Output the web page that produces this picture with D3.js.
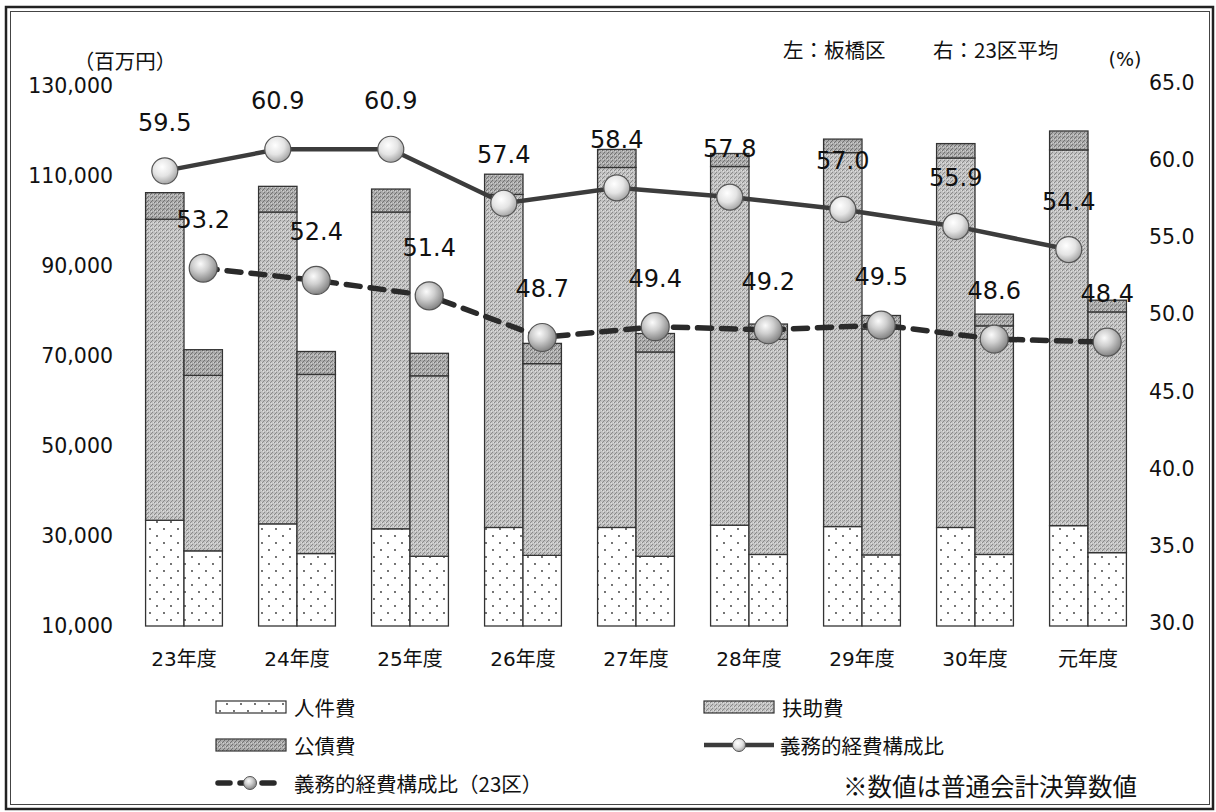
<!DOCTYPE html>
<html lang="ja">
<head>
<meta charset="utf-8">
<script src="https://cdn.jsdelivr.net/npm/d3@7"></script>
<style>
  html, body { margin: 0; padding: 0; background: #fff; }
  svg { display: block; }
  text { fill: #111; }
</style>
</head>
<body>
<svg id="chart" width="1216" height="812"></svg>
<script>
// 年度
const years = ['23年度', '24年度', '25年度', '26年度', '27年度', '28年度', '29年度', '30年度', '元年度'];

// 板橋区（百万円）
const itaPersonnel = [33500, 32700, 31600, 31900, 31900, 32400, 32100, 31900, 32300];
const itaAssist    = [66900, 69300, 70400, 74000, 80000, 79700, 83100, 82100, 83500];
const itaDebt      = [5900, 5700, 5100, 4500, 4000, 2900, 3000, 3200, 4200];

// 23区平均（百万円）
const wardPersonnel = [26700, 26100, 25500, 25700, 25500, 25900, 25800, 25900, 26300];
const wardAssist    = [39000, 39800, 40100, 42600, 45400, 47800, 50200, 50800, 53500];
const wardDebt      = [5700, 5100, 5000, 4500, 4100, 3400, 3000, 2600, 2600];

// 義務的経費構成比（%）
const itaRatio  = [59.5, 60.9, 60.9, 57.4, 58.4, 57.8, 57.0, 55.9, 54.4];
const wardRatio = [53.2, 52.4, 51.4, 48.7, 49.4, 49.2, 49.5, 48.6, 48.4];

// 軸目盛
const leftTicks  = [10000, 30000, 50000, 70000, 90000, 110000, 130000];
const rightTicks = [30, 35, 40, 45, 50, 55, 60, 65];

const seriesKeys = ['人件費', '扶助費', '公債費'];
const sides = ['ita', 'ward'];

const svg = d3.select('#chart');
const FONT = '"DejaVu Sans", "Noto Sans CJK JP", sans-serif';
const JFONT = '"Noto Sans CJK JP", sans-serif';

// ---- defs: fills and marker shading ----
const defs = svg.append('defs');

const dots = defs.append('pattern')
  .attr('id', 'dots').attr('patternUnits', 'userSpaceOnUse')
  .attr('width', 14).attr('height', 14);
dots.append('rect').attr('width', 14).attr('height', 14).attr('fill', '#fff');
dots.append('circle').attr('cx', 3).attr('cy', 4).attr('r', 0.9).attr('fill', '#333');
dots.append('circle').attr('cx', 10).attr('cy', 11).attr('r', 0.9).attr('fill', '#333');

function grain(id, base, speck, light) {
  const p = defs.append('pattern')
    .attr('id', id).attr('patternUnits', 'userSpaceOnUse')
    .attr('width', 4).attr('height', 4);
  p.append('rect').attr('width', 4).attr('height', 4).attr('fill', base);
  p.append('rect').attr('x', 0).attr('y', 0).attr('width', 1).attr('height', 1).attr('fill', speck);
  p.append('rect').attr('x', 2).attr('y', 2).attr('width', 1).attr('height', 1).attr('fill', speck);
  p.append('rect').attr('x', 3).attr('y', 1).attr('width', 1).attr('height', 1).attr('fill', speck);
  p.append('rect').attr('x', 3).attr('y', 3).attr('width', 1).attr('height', 1).attr('fill', light);
  p.append('rect').attr('x', 1).attr('y', 2).attr('width', 1).attr('height', 1).attr('fill', light);
}
grain('assist', '#c2c2c2', '#8a8a8a', '#dedede');
grain('debt', '#ababab', '#737373', '#cfcfcf');

function sphere(id, stops) {
  const g = defs.append('radialGradient').attr('id', id)
    .attr('cx', '40%').attr('cy', '35%').attr('r', '65%');
  stops.forEach(([o, c]) => g.append('stop').attr('offset', o).attr('stop-color', c));
}
sphere('ballLight', [['0%', '#ffffff'], ['55%', '#e4e4e4'], ['100%', '#a8a8a8']]);
sphere('ballDark', [['0%', '#fbfbfb'], ['45%', '#cfcfcf'], ['100%', '#858585']]);

const fills = { '人件費': 'url(#dots)', '扶助費': 'url(#assist)', '公債費': 'url(#debt)' };

// ---- frame ----
svg.append('rect').attr('x', 6).attr('y', 7).attr('width', 1207).attr('height', 802)
  .attr('fill', 'none').attr('stroke', '#222').attr('stroke-width', 2.5);
svg.append('rect').attr('x', 10.5).attr('y', 11.5).attr('width', 1199).attr('height', 793)
  .attr('fill', 'none').attr('stroke', '#444').attr('stroke-width', 1);

// ---- scales ----
const x = d3.scaleBand().domain(years).range([127.5, 1144.5])
  .paddingInner(0.32).paddingOuter(0.16);
const xSide = d3.scaleBand().domain(sides).range([0, x.bandwidth()]).padding(0);
const yL = d3.scaleLinear().domain([10000, 130000]).range([626, 86]);
const yR = d3.scaleLinear().domain([30, 65]).range([626, 86]);

// ---- stacked bars ----
const rows = years.map((yr, i) => ([
  { year: yr, side: 'ita', '人件費': itaPersonnel[i], '扶助費': itaAssist[i], '公債費': itaDebt[i] },
  { year: yr, side: 'ward', '人件費': wardPersonnel[i], '扶助費': wardAssist[i], '公債費': wardDebt[i] }
])).flat();

const stack = d3.stack().keys(seriesKeys);
const layers = stack(rows);

const barG = svg.append('g');
layers.forEach(layer => {
  barG.selectAll(null).data(layer).join('rect')
    .attr('x', d => x(d.data.year) + xSide(d.data.side))
    .attr('width', xSide.bandwidth())
    .attr('y', d => yL(d[1]))
    .attr('height', d => yL(Math.max(d[0], yL.domain()[0])) - yL(d[1]))
    .attr('fill', fills[layer.key])
    .attr('stroke', '#333')
    .attr('stroke-width', 1.3);
});

// ---- axes ----
const axL = svg.append('g').attr('transform', 'translate(113,0)')
  .call(d3.axisLeft(yL).tickValues(leftTicks).tickSize(0).tickPadding(0)
    .tickFormat(d3.format(',')));
axL.select('.domain').remove();
axL.selectAll('text').attr('font-family', FONT).attr('font-size', 20.5).attr('fill', '#111');

const axR = svg.append('g').attr('transform', 'translate(1149,-3)')
  .call(d3.axisRight(yR).tickValues(rightTicks).tickSize(0).tickPadding(0)
    .tickFormat(d3.format('.1f')));
axR.select('.domain').remove();
axR.selectAll('text').attr('font-family', FONT).attr('font-size', 20.5).attr('fill', '#111');

const axB = svg.append('g').attr('transform', 'translate(0,651)')
  .call(d3.axisBottom(x).tickSize(0).tickPadding(0));
axB.select('.domain').remove();
axB.selectAll('text').attr('font-family', FONT).attr('font-size', 20).attr('fill', '#111')
  .attr('dy', '0.75em');

// ---- unit & notes ----
svg.append('text').attr('x', 125).attr('y', 60).attr('text-anchor', 'middle')
  .attr('dominant-baseline', 'central')
  .attr('font-family', JFONT).attr('font-size', 20.5).text('（百万円）');
svg.append('text').attr('x', 1125).attr('y', 59).attr('text-anchor', 'middle')
  .attr('dominant-baseline', 'central')
  .attr('font-family', FONT).attr('font-size', 19).text('(%)');
svg.append('text').attr('x', 783).attr('y', 49).attr('dominant-baseline', 'central')
  .attr('font-family', JFONT).attr('font-size', 20.5).text('左：板橋区');
svg.append('text').attr('x', 933).attr('y', 49).attr('dominant-baseline', 'central')
  .attr('font-family', JFONT).attr('font-size', 20.5).text('右：23区平均');

// ---- ratio lines ----
const cxIta = i => x(years[i]) + xSide('ita') + xSide.bandwidth() / 2;
const cxWard = i => x(years[i]) + xSide('ward') + xSide.bandwidth() / 2;

const lineIta = d3.line().x((d, i) => cxIta(i)).y(d => yR(d));
const lineWard = d3.line().x((d, i) => cxWard(i)).y(d => yR(d));

svg.append('path').datum(itaRatio).attr('d', lineIta)
  .attr('fill', 'none').attr('stroke', '#3c3c3c').attr('stroke-width', 4.5);
svg.append('path').datum(wardRatio).attr('d', lineWard)
  .attr('fill', 'none').attr('stroke', '#2a2a2a').attr('stroke-width', 5.5)
  .attr('stroke-dasharray', '14 10').attr('stroke-linecap', 'round');

svg.append('g').selectAll('circle').data(itaRatio).join('circle')
  .attr('cx', (d, i) => cxIta(i)).attr('cy', d => yR(d)).attr('r', 13)
  .attr('fill', 'url(#ballLight)').attr('stroke', '#555').attr('stroke-width', 1.2);
svg.append('g').selectAll('circle').data(wardRatio).join('circle')
  .attr('cx', (d, i) => cxWard(i)).attr('cy', d => yR(d)).attr('r', 14)
  .attr('fill', 'url(#ballDark)').attr('stroke', '#555').attr('stroke-width', 1.2);

// ---- value labels ----
svg.append('g').selectAll('text').data(itaRatio).join('text')
  .attr('x', (d, i) => cxIta(i)).attr('y', d => yR(d) - 48)
  .attr('text-anchor', 'middle').attr('dominant-baseline', 'central')
  .attr('font-family', FONT).attr('font-size', 24).text(d => d.toFixed(1));
svg.append('g').selectAll('text').data(wardRatio).join('text')
  .attr('x', (d, i) => cxWard(i)).attr('y', d => yR(d) - 48)
  .attr('text-anchor', 'middle').attr('dominant-baseline', 'central')
  .attr('font-family', FONT).attr('font-size', 24).text(d => d.toFixed(1));

// ---- legend ----
const leg = svg.append('g');
const swatches = [
  { key: '人件費', x: 216, y: 707 },
  { key: '扶助費', x: 704, y: 707 },
  { key: '公債費', x: 216, y: 745 }
];
swatches.forEach(s => {
  leg.append('rect').attr('x', s.x).attr('y', s.y - 6).attr('width', 70).attr('height', 12)
    .attr('fill', fills[s.key]).attr('stroke', '#333').attr('stroke-width', 1.2);
  leg.append('text').attr('x', s.x + 78).attr('y', s.y).attr('dominant-baseline', 'central')
    .attr('font-family', JFONT).attr('font-size', 20.5).text(s.key);
});

// solid ratio line
leg.append('line').attr('x1', 704).attr('x2', 774).attr('y1', 745).attr('y2', 745)
  .attr('stroke', '#3c3c3c').attr('stroke-width', 4.5);
leg.append('circle').attr('cx', 739).attr('cy', 745).attr('r', 6.5)
  .attr('fill', 'url(#ballLight)').attr('stroke', '#555');
leg.append('text').attr('x', 780).attr('y', 745).attr('dominant-baseline', 'central')
  .attr('font-family', JFONT).attr('font-size', 20.5).text('義務的経費構成比');

// dashed ratio line (23区)
leg.append('line').attr('x1', 218).attr('x2', 281).attr('y1', 783).attr('y2', 783)
  .attr('stroke', '#2a2a2a').attr('stroke-width', 5.5)
  .attr('stroke-dasharray', '12 10').attr('stroke-linecap', 'round');
leg.append('circle').attr('cx', 250).attr('cy', 783).attr('r', 6.5)
  .attr('fill', 'url(#ballDark)').attr('stroke', '#555');
leg.append('text').attr('x', 294).attr('y', 783).attr('dominant-baseline', 'central')
  .attr('font-family', JFONT).attr('font-size', 20.5).text('義務的経費構成比（23区）');

svg.append('text').attr('x', 843).attr('y', 785).attr('dominant-baseline', 'central')
  .attr('font-family', JFONT).attr('font-size', 24.5).text('※数値は普通会計決算数値');
</script>
</body>
</html>
